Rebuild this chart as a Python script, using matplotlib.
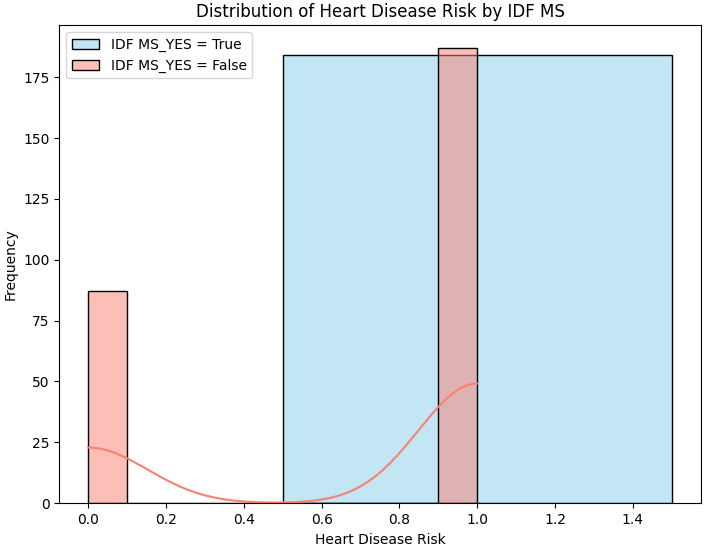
import matplotlib
matplotlib.use("Agg")
import matplotlib.pyplot as plt
import numpy as np
import seaborn as sns

# Heart disease risk values (0/1) and their counts per IDF MS group
risk_values = [0, 1]
counts_true = [0, 184]
counts_false = [87, 187]

risk_true = np.repeat(risk_values, counts_true)
risk_false = np.repeat(risk_values, counts_false)

fig, ax = plt.subplots(figsize=(7.05, 5.47), dpi=100)

sns.histplot(risk_true, color="skyblue", alpha=0.5, label="IDF MS_YES = True",
             kde=False, ax=ax)
sns.histplot(risk_false, color="salmon", alpha=0.5, label="IDF MS_YES = False",
             kde=True, ax=ax)

ax.set_title("Distribution of Heart Disease Risk by IDF MS")
ax.set_xlabel("Heart Disease Risk")
ax.set_ylabel("Frequency")
ax.legend(loc="upper left")

fig.subplots_adjust(left=0.084, right=0.994, top=0.954, bottom=0.080)
fig.savefig("out.png", dpi=100)
